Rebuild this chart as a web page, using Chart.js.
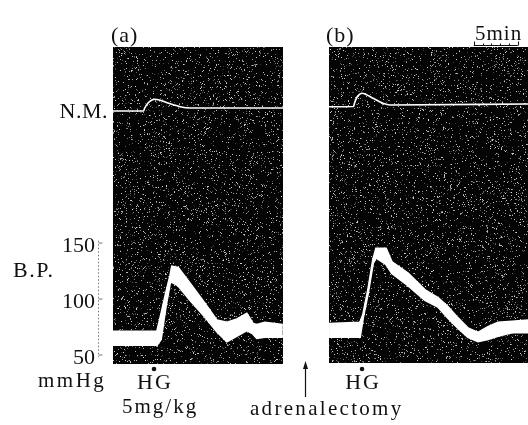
<!DOCTYPE html>
<html>
<head>
<meta charset="utf-8">
<script src="https://cdn.jsdelivr.net/npm/chart.js@4/dist/chart.umd.min.js"></script>
<style>
  html, body { margin: 0; padding: 0; background: #fff; }
  #wrap { width: 528px; height: 425px; }
</style>
</head>
<body>
<div id="wrap"><canvas id="trace" width="528" height="425"></canvas></div>
<script>
// time in minutes from the left edge of panel (a); B.P. in mmHg; N.M. in arbitrary units
const bpTicks = [150, 100, 50];

const tA = [0, 5.0, 5.45, 6.0, 6.5, 6.7, 7.4, 8.75, 10.45, 11.8, 12.95, 14.1, 15.2, 15.9, 16.35, 17.25, 19.3];
const bpUpperA = [71, 71, 86, 105, 121, 129, 128, 114, 96, 81, 79, 82, 87, 78, 77, 79, 77];
const bpLowerA = [59, 59, 64, 93, 115, 115, 112, 99, 84, 71, 62, 67, 72, 69, 65, 66, 66];

const tB = [24.55, 28.07, 28.41, 28.98, 29.55, 29.89, 31.02, 31.7, 33.52, 35.45, 36.93, 38.07, 39.2, 40.34, 41.48, 42.61, 43.75, 45.34, 47.16];
const bpUpperB = [78, 79, 86, 108, 135, 145, 145, 133, 123, 108, 101, 93, 83, 74, 70, 75, 79, 80, 81];
const bpLowerB = [66, 66, 83, 105, 132, 137, 131, 123, 112, 99, 93, 83, 74, 66, 62, 64, 67, 70, 70];

const tNmA = [0, 3.47, 3.58, 3.98, 4.43, 4.77, 5.34, 6.14, 6.93, 7.61, 8.75, 19.32];
const nmA = [0, 0, 2.5, 8, 11, 11.7, 10.7, 8.3, 6, 4.3, 3, 3];

const tNmB = [24.55, 27.33, 27.44, 27.73, 28.07, 28.3, 28.75, 29.55, 30.68, 31.48, 47.16];
const nmB = [4.3, 4.5, 7.7, 14, 17, 17.7, 16.5, 12.7, 7.7, 6, 7];

const injectionTimes = [4.66, 28.3];
const adrenalectomyTime = 21.8;
const scaleBarStart = 41.0;

const pts = (xs, ys) => xs.map((x, i) => ({ x: x, y: ys[i] }));

const SERIF = '"Liberation Serif", "Times New Roman", serif';

function noise(i, j) {
    let h = Math.imul(i, 73856093) ^ Math.imul(j, 19349663);
    h = Math.imul(h ^ (h >>> 13), 1274126177);
    h ^= h >>> 16;
    return (h >>> 0) / 4294967296;
}

const panels = [
    { t0: 0, t1: 19.32, top: 325, bottom: 42 },
    { t0: 24.55, t1: 47.3, top: 325, bottom: 43 }
];

function text(ctx, s, x, y, size, spacing, align) {
    ctx.save();
    ctx.font = size + 'px ' + SERIF;
    ctx.letterSpacing = spacing + 'px';
    ctx.fillStyle = '#111';
    ctx.textAlign = align || 'left';
    ctx.textBaseline = 'alphabetic';
    ctx.fillText(s, x, y);
    ctx.restore();
}

const recorderPlugin = {
    id: 'recorder',
    beforeDatasetsDraw(chart) {
        const ctx = chart.ctx;
        const xs = chart.scales.x, ys = chart.scales.bp;
        panels.forEach(p => {
            const x0 = Math.round(xs.getPixelForValue(p.t0));
            const x1 = Math.min(chart.width, Math.round(xs.getPixelForValue(p.t1)));
            const y0 = Math.round(ys.getPixelForValue(p.top));
            const y1 = Math.round(ys.getPixelForValue(p.bottom));
            const w = x1 - x0, h = y1 - y0;
            const img = ctx.createImageData(w, h);
            for (let j = 0; j < h; j++) {
                for (let i = 0; i < w; i++) {
                    const k = (j * w + i) * 4;
                    let g = 4;
                    const r = noise(x0 + i, y0 + j);
                    if (r < 0.085) g = 50 + Math.floor(noise(y0 + j + 11, x0 + i + 5) * 170);
                    img.data[k] = g; img.data[k + 1] = g; img.data[k + 2] = g; img.data[k + 3] = 255;
                }
            }
            ctx.putImageData(img, x0, y0);
        });
    },
    afterDraw(chart) {
        const ctx = chart.ctx;
        const xs = chart.scales.x, ys = chart.scales.bp;

        // B.P. calibration axis
        const axX = 98.5;
        ctx.save();
        ctx.strokeStyle = '#777';
        ctx.lineWidth = 1;
        ctx.setLineDash([1.5, 2]);
        ctx.beginPath();
        ctx.moveTo(axX, ys.getPixelForValue(152));
        ctx.lineTo(axX, ys.getPixelForValue(48));
        ctx.stroke();
        ctx.setLineDash([]);
        bpTicks.forEach(v => {
            const y = ys.getPixelForValue(v);
            ctx.beginPath();
            ctx.moveTo(axX, y);
            ctx.lineTo(axX + 4, y);
            ctx.stroke();
            ctx.save();
            ctx.font = '22px ' + SERIF;
            ctx.fillStyle = '#111';
            ctx.textAlign = 'right';
            ctx.textBaseline = 'middle';
            ctx.fillText(String(v), 95, y + 3);
            ctx.restore();
        });
        ctx.restore();

        text(ctx, '(a)', 111, 42, 22, 1);
        text(ctx, '(b)', 326, 42, 22, 1);
        text(ctx, '5min', 475, 40, 21, 1);
        text(ctx, 'N.M.', 108, 118, 22, 0.5, 'right');
        text(ctx, 'B.P.', 13, 277, 22, 1.5);
        text(ctx, 'mmHg', 38, 387, 21, 2.5);

        // 5 min scale bar
        const sb0 = xs.getPixelForValue(scaleBarStart), sb1 = xs.getPixelForValue(scaleBarStart + 5);
        ctx.save();
        ctx.strokeStyle = '#111';
        ctx.lineWidth = 1;
        ctx.beginPath();
        ctx.moveTo(sb0, 45.5); ctx.lineTo(sb1, 45.5);
        for (let m = 0; m <= 5; m++) {
            const px = Math.round(xs.getPixelForValue(scaleBarStart + m)) + 0.5;
            const hgt = (m === 0 || m === 5) ? 4 : 2;
            ctx.moveTo(px, 45.5); ctx.lineTo(px, 45.5 - hgt);
        }
        ctx.stroke();
        ctx.restore();

        // HG injection markers
        injectionTimes.forEach(t => {
            const px = xs.getPixelForValue(t);
            ctx.save();
            ctx.fillStyle = '#111';
            ctx.beginPath();
            ctx.arc(px, 369, 2.3, 0, Math.PI * 2);
            ctx.fill();
            ctx.restore();
            text(ctx, 'HG', px + 1, 389, 22, 2, 'center');
        });
        text(ctx, '5mg/kg', 122, 413, 21, 2);

        // adrenalectomy arrow
        const ax = Math.round(xs.getPixelForValue(adrenalectomyTime)) + 0.5;
        ctx.save();
        ctx.strokeStyle = '#111';
        ctx.fillStyle = '#111';
        ctx.lineWidth = 1.2;
        ctx.beginPath();
        ctx.moveTo(ax, 397); ctx.lineTo(ax, 366);
        ctx.stroke();
        ctx.beginPath();
        ctx.moveTo(ax, 361); ctx.lineTo(ax - 2.5, 369); ctx.lineTo(ax + 2.5, 369);
        ctx.closePath();
        ctx.fill();
        ctx.restore();
        text(ctx, 'adrenalectomy', 250, 415, 21, 2.3);
    }
};

const band = (data, fill) => ({
    data: data,
    yAxisID: 'bp',
    borderColor: '#fff',
    backgroundColor: '#fff',
    borderWidth: 2,
    pointRadius: 0,
    tension: 0,
    fill: fill
});

const nmLine = data => ({
    data: data,
    yAxisID: 'nm',
    borderColor: '#fff',
    borderWidth: 1.6,
    pointRadius: 0,
    cubicInterpolationMode: 'monotone',
    fill: false
});

new Chart(document.getElementById('trace').getContext('2d'), {
    type: 'line',
    data: {
        datasets: [
            band(pts(tA, bpUpperA), '+1'),
            band(pts(tA, bpLowerA), false),
            band(pts(tB, bpUpperB), '+1'),
            band(pts(tB, bpLowerB), false),
            nmLine(pts(tNmA, nmA)),
            nmLine(pts(tNmB, nmB))
        ]
    },
    options: {
        responsive: false,
        animation: false,
        devicePixelRatio: 1,
        layout: { padding: 0 },
        plugins: { legend: { display: false }, tooltip: { enabled: false } },
        scales: {
            x: { type: 'linear', display: false, min: -113 / 8.8, max: 415 / 8.8 },
            bp: { type: 'linear', display: false, min: 50 - 70 / 1.12, max: 50 + 355 / 1.12 },
            nm: { type: 'linear', display: false, min: -314, max: 111 }
        }
    },
    plugins: [recorderPlugin]
});
</script>
</body>
</html>
